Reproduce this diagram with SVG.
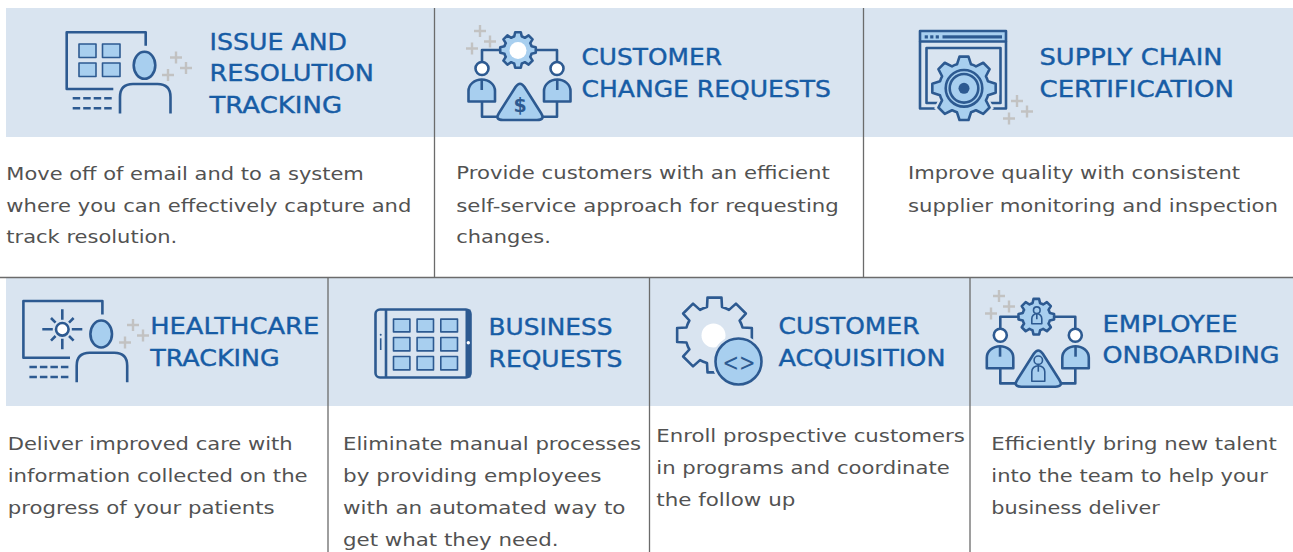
<svg xmlns="http://www.w3.org/2000/svg" width="1293" height="552" viewBox="0 0 1293 552">
<style>
.band{fill:#d9e4f0}
.div{stroke:#6b6b6b;stroke-width:1.3;fill:none}
.t{font-family:"DejaVu Sans","Liberation Sans",sans-serif;font-size:23.5px;fill:#175ca5;stroke:#175ca5;stroke-width:0.4}
.b{font-family:"DejaVu Sans","Liberation Sans",sans-serif;font-size:18.5px;fill:#525252}
.ln{fill:none;stroke:#2d5a91;stroke-width:2.6;stroke-linejoin:round}
.lf{fill:#a8cfef;stroke:#2d5a91;stroke-width:2.6;stroke-linejoin:round}
.wf{fill:#ffffff;stroke:#2d5a91;stroke-width:2.6}
.thin{stroke-width:1.6}
.dkf{fill:#2d5a91}
.halo{fill:none;stroke:#d9e4f0;stroke-width:7}
.pl{stroke:#c2c2c2;stroke-width:2.4;fill:none}
.sym{font-family:"DejaVu Sans","Liberation Sans",sans-serif;fill:#2d5a91;text-anchor:middle}
</style>
<defs>
<path id="plus" d="M-6,0H6M0,-6V6"/>
<g id="plusTrio" class="pl"><use href="#plus"/><use href="#plus" x="10" y="10.5"/><use href="#plus" x="-8" y="17.5"/></g>
<path id="gearS" d="M13.47,-3.8 L17.78,-2.8 L17.78,2.8 L13.47,3.8 A14,14 0 0 1 12.21,6.84 L14.55,10.59 L10.59,14.55 L6.84,12.21 A14,14 0 0 1 3.8,13.47 L2.8,17.78 L-2.8,17.78 L-3.8,13.47 A14,14 0 0 1 -6.84,12.21 L-10.59,14.55 L-14.55,10.59 L-12.21,6.84 A14,14 0 0 1 -13.47,3.8 L-17.78,2.8 L-17.78,-2.8 L-13.47,-3.8 A14,14 0 0 1 -12.21,-6.84 L-14.55,-10.59 L-10.59,-14.55 L-6.84,-12.21 A14,14 0 0 1 -3.8,-13.47 L-2.8,-17.78 L2.8,-17.78 L3.8,-13.47 A14,14 0 0 1 6.84,-12.21 L10.59,-14.55 L14.55,-10.59 L12.21,-6.84 A14,14 0 0 1 13.47,-3.8 Z"/>
<path id="gearM" d="M24,-7 L31.68,-4.5 L31.68,4.5 L24,7 A25,25 0 0 1 21.92,12.02 L25.58,19.22 L19.22,25.58 L12.02,21.92 A25,25 0 0 1 7,24 L4.5,31.68 L-4.5,31.68 L-7,24 A25,25 0 0 1 -12.02,21.92 L-19.22,25.58 L-25.58,19.22 L-21.92,12.02 A25,25 0 0 1 -24,7 L-31.68,4.5 L-31.68,-4.5 L-24,-7 A25,25 0 0 1 -21.92,-12.02 L-25.58,-19.22 L-19.22,-25.58 L-12.02,-21.92 A25,25 0 0 1 -7,-24 L-4.5,-31.68 L4.5,-31.68 L7,-24 A25,25 0 0 1 12.02,-21.92 L19.22,-25.58 L25.58,-19.22 L21.92,-12.02 A25,25 0 0 1 24,-7 Z"/>
<path id="gearL" d="M28.01,-7.5 L37.35,-7 L37.35,7 L28.01,7.5 A29,29 0 0 1 25.11,14.5 L31.36,21.46 L21.46,31.36 L14.5,25.11 A29,29 0 0 1 7.5,28.01 L7,37.35 L-7,37.35 L-7.5,28.01 A29,29 0 0 1 -14.5,25.11 L-21.46,31.36 L-31.36,21.46 L-25.11,14.5 A29,29 0 0 1 -28.01,7.5 L-37.35,7 L-37.35,-7 L-28.01,-7.5 A29,29 0 0 1 -25.11,-14.5 L-31.36,-21.46 L-21.46,-31.36 L-14.5,-25.11 A29,29 0 0 1 -7.5,-28.01 L-7,-37.35 L7,-37.35 L7.5,-28.01 A29,29 0 0 1 14.5,-25.11 L21.46,-31.36 L31.36,-21.46 L25.11,-14.5 A29,29 0 0 1 28.01,-7.5 Z"/>
<g id="deskPerson">
<path class="ln" stroke-width="2.8" d="M113.3,89 H66.7 V32.3 H145.7 V45.7"/>
<path class="ln" stroke-width="2.8" d="M120,113.5 V97 Q120,84 133,84 H157.5 Q170.5,84 170.5,97 V113.5"/>
<ellipse class="lf" stroke-width="2.8" cx="144.5" cy="65.3" rx="10.8" ry="13.5"/>
<path class="ln" stroke-width="2.6" stroke-dasharray="7.5 3" d="M72.7,98.3 H111.7 M72.7,108.3 H111.7"/>
</g>
<g id="team">
<path class="ln" d="M482,62 V50 H557 V62"/>
<path class="ln" d="M482,101.5 V116.7 H557 V101.5"/>
<use href="#gearS" class="lf" transform="translate(518,50)"/>
<circle class="wf" cx="482" cy="68.5" r="6.5"/>
<circle class="wf" cx="557" cy="68.5" r="6.5"/>
<path class="lf" d="M468.5,101.5 V91 A13.25,11.5 0 0 1 495,91 V101.5 Z"/>
<path class="ln" d="M481.75,79.5 V90"/>
<path class="lf" d="M544,101.5 V91 A13.25,11.5 0 0 1 570.5,91 V101.5 Z"/>
<path class="ln" d="M557.25,79.5 V90"/>
<path class="lf" d="M515.5,87 Q520,80.5 524.5,87 L541,113 Q545.5,120 537,120 H503 Q494.5,120 499,113 Z"/>
</g>
</defs>

<rect x="0" y="0" width="1293" height="552" fill="#ffffff"/>
<g id="bands">
<rect class="band" x="6" y="8" width="1287" height="129"/>
<rect class="band" x="6" y="278" width="1287" height="128"/>
</g>

<g id="connectors">
<path class="div" d="M0,277.5 H1293"/>
<path class="div" d="M434.5,8 V277.5 M863.5,8 V277.5 M328,277.5 V552 M649.5,277.5 V552 M970,277.5 V552"/>
</g>

<g id="issue-resolution-tracking">
<use href="#deskPerson"/>
<rect class="lf thin" x="79" y="44" width="17" height="13.5"/>
<rect class="lf thin" x="102.5" y="44" width="17.5" height="13.5"/>
<rect class="lf thin" x="79" y="63" width="17" height="13.5"/>
<rect class="lf thin" x="102.5" y="63" width="17.5" height="13.5"/>
<use href="#plusTrio" x="176" y="57.5"/>
<text class="t" x="209.5" y="49.5" textLength="137.5" lengthAdjust="spacingAndGlyphs">ISSUE AND</text>
<text class="t" x="209.5" y="81" textLength="164.5" lengthAdjust="spacingAndGlyphs">RESOLUTION</text>
<text class="t" x="209.5" y="112.7" textLength="132.5" lengthAdjust="spacingAndGlyphs">TRACKING</text>
<text class="b" x="6.3" y="179.5" textLength="357.5" lengthAdjust="spacingAndGlyphs">Move off of email and to a system</text>
<text class="b" x="6.3" y="211.5" textLength="405" lengthAdjust="spacingAndGlyphs">where you can effectively capture and</text>
<text class="b" x="6.3" y="243" textLength="171" lengthAdjust="spacingAndGlyphs">track resolution.</text>
</g>

<g id="customer-change-requests">
<use href="#team"/>
<circle cx="518" cy="50.5" r="8.5" fill="#ffffff"/>
<text class="sym" x="520" y="112" font-size="19" font-weight="bold">$</text>
<use href="#plusTrio" x="480" y="31"/>
<text class="t" x="581.5" y="65" textLength="140.5" lengthAdjust="spacingAndGlyphs">CUSTOMER</text>
<text class="t" x="581.5" y="96.7" textLength="249.5" lengthAdjust="spacingAndGlyphs">CHANGE REQUESTS</text>
<text class="b" x="456.3" y="179.3" textLength="373.5" lengthAdjust="spacingAndGlyphs">Provide customers with an efficient</text>
<text class="b" x="456.3" y="211.5" textLength="382.5" lengthAdjust="spacingAndGlyphs">self-service approach for requesting</text>
<text class="b" x="456.3" y="243.3" textLength="94.5" lengthAdjust="spacingAndGlyphs">changes.</text>
</g>

<g id="supply-chain-certification">
<rect class="lf" x="920" y="31" width="86" height="10.5"/>
<path class="ln" d="M920,41.5 V108.5 H1006 V41.5"/>
<rect class="ln" x="926.5" y="48" width="74" height="55"/>
<rect class="dkf" x="924.7" y="35.3" width="3.2" height="3.2"/>
<rect class="dkf" x="930.2" y="35.3" width="3.2" height="3.2"/>
<rect class="dkf" x="935.7" y="35.3" width="3.2" height="3.2"/>
<rect class="dkf" x="942.5" y="35.3" width="59.5" height="3.2"/>
<use href="#gearM" class="halo" transform="translate(964,88.3)"/>
<use href="#gearM" class="lf" transform="translate(964,88.3)"/>
<circle class="lf" cx="964" cy="88.3" r="18.3"/>
<circle class="lf" stroke-width="2" cx="964" cy="88.3" r="14.3"/>
<circle class="dkf" cx="964" cy="88.3" r="5.5"/>
<use href="#plusTrio" x="1017" y="101"/>
<text class="t" x="1039.5" y="65" textLength="183" lengthAdjust="spacingAndGlyphs">SUPPLY CHAIN</text>
<text class="t" x="1039.5" y="96.7" textLength="194.5" lengthAdjust="spacingAndGlyphs">CERTIFICATION</text>
<text class="b" x="908" y="179.3" textLength="332" lengthAdjust="spacingAndGlyphs">Improve quality with consistent</text>
<text class="b" x="908" y="211.5" textLength="370" lengthAdjust="spacingAndGlyphs">supplier monitoring and inspection</text>
</g>

<g id="healthcare-tracking">
<use href="#deskPerson" transform="translate(-43.3,268.7)"/>
<path class="ln" d="M62.3,319.8 V309.3 M62.3,338.8 V349.3 M52.8,329.3 H42.3 M71.8,329.3 H82.3 M55.58,322.58 L50.99,317.99 M69.02,322.58 L73.61,317.99 M55.58,336.02 L50.99,340.61 M69.02,336.02 L73.61,340.61"/>
<circle class="wf" stroke-width="2.8" cx="62.3" cy="329.3" r="6.3"/>
<use href="#plusTrio" x="133" y="325"/>
<text class="t" x="150.2" y="334" textLength="169" lengthAdjust="spacingAndGlyphs">HEALTHCARE</text>
<text class="t" x="150.2" y="365.7" textLength="129.5" lengthAdjust="spacingAndGlyphs">TRACKING</text>
<text class="b" x="7.7" y="450" textLength="285" lengthAdjust="spacingAndGlyphs">Deliver improved care with</text>
<text class="b" x="7.7" y="482" textLength="300" lengthAdjust="spacingAndGlyphs">information collected on the</text>
<text class="b" x="7.7" y="513.7" textLength="267" lengthAdjust="spacingAndGlyphs">progress of your patients</text>
</g>

<g id="business-requests">
<rect class="dkf" x="465.5" y="309.5" width="5" height="68"/>
<rect class="ln" stroke-width="2.8" x="375.5" y="309.5" width="95" height="68" rx="4.5"/>
<path class="ln" stroke-width="2" d="M386,309.5 V377.5"/>
<path class="ln thin" d="M380.7,338.3 V350"/>
<circle class="dkf" cx="380.7" cy="334.8" r="1"/>
<circle cx="468.3" cy="342.7" r="1.7" fill="#ffffff"/>
<rect class="lf thin" x="393.5" y="319.1" width="16.4" height="12.8"/>
<rect class="lf thin" x="417.1" y="319.1" width="16.4" height="12.8"/>
<rect class="lf thin" x="440.8" y="319.1" width="16.7" height="12.8"/>
<rect class="lf thin" x="393.5" y="337.5" width="16.4" height="13.4"/>
<rect class="lf thin" x="417.1" y="337.5" width="16.4" height="13.4"/>
<rect class="lf thin" x="440.8" y="337.5" width="16.7" height="13.4"/>
<rect class="lf thin" x="393.5" y="356.5" width="16.4" height="13.4"/>
<rect class="lf thin" x="417.1" y="356.5" width="16.4" height="13.4"/>
<rect class="lf thin" x="440.8" y="356.5" width="16.7" height="13.4"/>
<text class="t" x="488.5" y="335" textLength="124" lengthAdjust="spacingAndGlyphs">BUSINESS</text>
<text class="t" x="488.5" y="367.3" textLength="134" lengthAdjust="spacingAndGlyphs">REQUESTS</text>
<text class="b" x="343" y="450" textLength="298" lengthAdjust="spacingAndGlyphs">Eliminate manual processes</text>
<text class="b" x="343" y="482" textLength="258.5" lengthAdjust="spacingAndGlyphs">by providing employees</text>
<text class="b" x="343" y="513.7" textLength="282.5" lengthAdjust="spacingAndGlyphs">with an automated way to</text>
<text class="b" x="343" y="545.5" textLength="215.5" lengthAdjust="spacingAndGlyphs">get what they need.</text>
</g>

<g id="customer-acquisition">
<use href="#gearL" class="ln" transform="translate(714.5,335)"/>
<circle cx="713.5" cy="335.5" r="12" fill="#ffffff"/>
<circle class="halo" cx="738.5" cy="361.5" r="23"/>
<circle class="lf" stroke-width="2.8" cx="738.5" cy="361.5" r="23"/>
<text class="sym" x="739" y="370.5" font-size="25" textLength="33" lengthAdjust="spacingAndGlyphs">&lt;&gt;</text>
<text class="t" x="778.5" y="334" textLength="141" lengthAdjust="spacingAndGlyphs">CUSTOMER</text>
<text class="t" x="778.5" y="366" textLength="167" lengthAdjust="spacingAndGlyphs">ACQUISITION</text>
<text class="b" x="656.3" y="442.3" textLength="308.5" lengthAdjust="spacingAndGlyphs">Enroll prospective customers</text>
<text class="b" x="656.3" y="474" textLength="293.5" lengthAdjust="spacingAndGlyphs">in programs and coordinate</text>
<text class="b" x="656.3" y="505.8" textLength="139" lengthAdjust="spacingAndGlyphs">the follow up</text>
</g>

<g id="employee-onboarding">
<g transform="translate(518.3,266.7)">
<use href="#team"/>
<circle class="lf thin" cx="518.5" cy="43.5" r="3.3"/>
<path class="lf thin" d="M513.5,57 V52 A5,5 0 0 1 523.5,52 V57 Z"/>
<path class="ln thin" d="M518.5,47 V52.5"/>
<circle class="lf thin" cx="520" cy="93.5" r="4.2"/>
<path class="lf thin" d="M513.5,114.5 V105 A6.5,6 0 0 1 526.5,105 V114.5 Z"/>
<path class="ln thin" d="M520,99 V105"/>
</g>
<use href="#plusTrio" x="999" y="296"/>
<text class="t" x="1102.5" y="331.7" textLength="135" lengthAdjust="spacingAndGlyphs">EMPLOYEE</text>
<text class="t" x="1102.5" y="363.3" textLength="177" lengthAdjust="spacingAndGlyphs">ONBOARDING</text>
<text class="b" x="991.3" y="450" textLength="285.5" lengthAdjust="spacingAndGlyphs">Efficiently bring new talent</text>
<text class="b" x="991.3" y="482" textLength="276.5" lengthAdjust="spacingAndGlyphs">into the team to help your</text>
<text class="b" x="991.3" y="513.7" textLength="168.5" lengthAdjust="spacingAndGlyphs">business deliver</text>
</g>
</svg>
